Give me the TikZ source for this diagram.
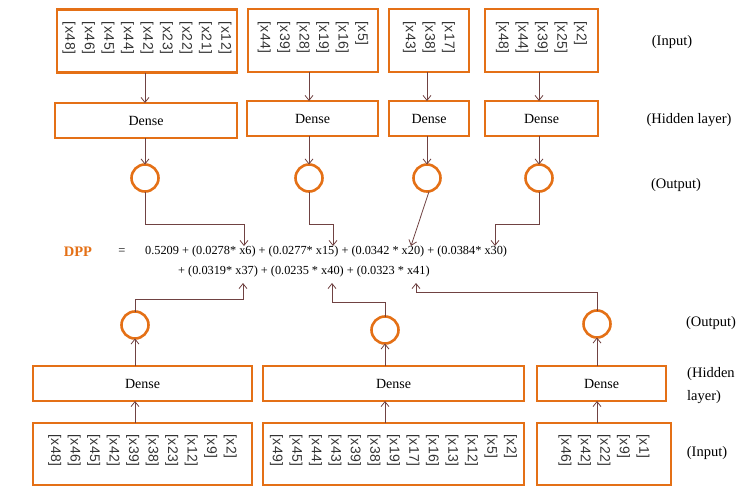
\documentclass[tikz,border=0pt]{standalone}
\usepackage{fontspec}
\setmainfont{Liberation Serif}
\newfontfamily\varfont[LetterSpace=4]{Liberation Sans}
\usetikzlibrary{arrows.meta}
\definecolor{boxorange}{RGB}{228,112,22}
\definecolor{linkbrown}{RGB}{112,66,66}
\tikzset{
  box/.style={draw=boxorange,line width=2.6pt,inner sep=0pt,outer sep=0pt},
  densebox/.style={box,font=\fontsize{14}{16}\selectfont},
  unit/.style={draw=boxorange,line width=2.6pt,circle,minimum size=27pt,inner sep=0pt,outer sep=0pt},
  vars/.style={rotate=-90,anchor=west,align=left,inner sep=0pt,font=\varfont\fontsize{14}{19.5}\selectfont,text=black!80},
  arr/.style={draw=linkbrown,line width=0.8pt,-{Straight Barb[length=5pt,width=8pt]}},
  layer/.style={font=\fontsize{14.5}{23}\selectfont,inner sep=0pt},
  eqn/.style={font=\fontsize{12.3}{14}\selectfont,inner sep=0pt,anchor=west}
}
\begin{document}
\begin{tikzpicture}[x=1pt,y=-1pt]
\useasboundingbox (0,0) rectangle (755,498);

% upper networks
\node[box,minimum width=180pt,minimum height=63pt] (ti1) at (147,41) {};
\node[box,minimum width=130pt,minimum height=63pt] (ti2) at (313,40.5) {};
\node[box,minimum width=80pt,minimum height=63pt] (ti3) at (429,40.5) {};
\node[box,minimum width=113pt,minimum height=63pt] (ti4) at (541.5,40.5) {};
\node[vars] (tv1) at ([yshift=-12pt]ti1.north) {{[x12]}\\{[x21]}\\{[x22]}\\{[x23]}\\{[x42]}\\{[x44]}\\{[x45]}\\{[x46]}\\{[x48]}};
\node[vars] (tv2) at ([yshift=-12pt]ti2.north) {{[x5]}\\{[x16]}\\{[x19]}\\{[x28]}\\{[x39]}\\{[x44]}};
\node[vars] (tv3) at ([yshift=-12pt]ti3.north) {{[x17]}\\{[x38]}\\{[x43]}};
\node[vars] (tv4) at ([yshift=-12pt]ti4.north) {{[x2]}\\{[x25]}\\{[x39]}\\{[x44]}\\{[x48]}};

\node[densebox,minimum width=182pt,minimum height=35pt] (td1) at (146,120.5) {Dense};
\node[densebox,minimum width=131pt,minimum height=35pt] (td2) at (312.5,118.5) {Dense};
\node[densebox,minimum width=80pt,minimum height=35pt] (td3) at (429,118.5) {Dense};
\node[densebox,minimum width=113pt,minimum height=35pt] (td4) at (541.5,118.5) {Dense};

\node[unit] (oc1) at (145,178) {};
\node[unit] (oc2) at (309,178) {};
\node[unit] (oc3) at (427,178) {};
\node[unit] (oc4) at (539,178) {};

\draw[arr] (ti1.south -| oc1) -- (td1.north -| oc1);
\draw[arr] (ti2.south -| oc2) -- (td2.north -| oc2);
\draw[arr] (ti3.south -| oc3) -- (td3.north -| oc3);
\draw[arr] (ti4.south -| oc4) -- (td4.north -| oc4);
\draw[arr] (td1.south -| oc1) -- (oc1.north);
\draw[arr] (td2.south -| oc2) -- (oc2.north);
\draw[arr] (td3.south -| oc3) -- (oc3.north);
\draw[arr] (td4.south -| oc4) -- (oc4.north);

% equation
\node[font=\bfseries\fontsize{14.5}{16}\selectfont,text=boxorange,inner sep=0pt] (dpp) at (78,252) {DPP};
\node[font=\fontsize{12.5}{14}\selectfont,inner sep=0pt] (eq) at (122,252) {=};
\node[eqn] (row1) at (145,252) {0.5209 + (0.0278* x6) + (0.0277* x15) + (0.0342 * x20) + (0.0384* x30)};
\node[eqn] (row2) at (178,272) {+ (0.0319* x37) + (0.0235 * x40) + (0.0323 * x41)};

\coordinate (t6) at (244,246);
\coordinate (t15) at (333,246);
\coordinate (t20) at (411,246);
\coordinate (t30) at (495,246);
\coordinate (b37) at (243,283);
\coordinate (b40) at (332,283);
\coordinate (b41) at (416,283);

\draw[arr] (oc1.south) -- ++(0,33) -| (t6);
\draw[arr] (oc2.south) -- ++(0,33) -| (t15);
\draw[arr] ([xshift=2pt]oc3.south) -- (t20);
\draw[arr] (oc4.south) -- ++(0,33) -| (t30);

% lower networks
\node[unit] (bc1) at (135,325) {};
\node[unit] (bc2) at (385,330) {};
\node[unit] (bc3) at (597,324) {};

\draw[arr] (bc1.north) -- ++(0,-12) -| (b37);
\draw[arr] (bc2.north) -- ++(0,-14) -| (b40);
\draw[arr] (bc3.north) -- ++(0,-18) -| (b41);

\node[densebox,minimum width=219pt,minimum height=35pt] (bd1) at (142.5,383.5) {Dense};
\node[densebox,minimum width=261pt,minimum height=35pt] (bd2) at (393.5,383.5) {Dense};
\node[densebox,minimum width=129pt,minimum height=35pt] (bd3) at (601.5,383.5) {Dense};

\node[box,minimum width=219pt,minimum height=62pt] (bi1) at (142.5,454) {};
\node[box,minimum width=261pt,minimum height=62pt] (bi2) at (393.5,454) {};
\node[box,minimum width=134pt,minimum height=62pt] (bi3) at (604,454) {};
\node[vars] (bv1) at ([yshift=-11pt]bi1.north) {{[x2]}\\{[x9]}\\{[x12]}\\{[x23]}\\{[x38]}\\{[x39]}\\{[x42]}\\{[x45]}\\{[x46]}\\{[x48]}};
\node[vars] (bv2) at ([yshift=-11pt]bi2.north) {{[x2]}\\{[x5]}\\{[x12]}\\{[x13]}\\{[x16]}\\{[x17]}\\{[x19]}\\{[x38]}\\{[x39]}\\{[x43]}\\{[x44]}\\{[x45]}\\{[x49]}};
\node[vars] (bv3) at ([yshift=-11pt]bi3.north) {{[x1]}\\{[x9]}\\{[x22]}\\{[x42]}\\{[x46]}};

\draw[arr] (bi1.north -| bc1) -- (bd1.south -| bc1);
\draw[arr] (bi2.north -| bc2) -- (bd2.south -| bc2);
\draw[arr] (bi3.north -| bc3) -- (bd3.south -| bc3);
\draw[arr] (bd1.north -| bc1) -- (bc1.south);
\draw[arr] (bd2.north -| bc2) -- (bc2.south);
\draw[arr] (bd3.north -| bc3) -- (bc3.south);

% layer names
\node[layer] (ln1) at (672,42) {(Input)};
\node[layer] (ln2) at (689,120) {(Hidden layer)};
\node[layer] (ln3) at (676,185) {(Output)};
\node[layer] (ln4) at (711,323) {(Output)};
\node[layer,align=left,anchor=west] (ln5) at (687,385.5) {(Hidden\\layer)};
\node[layer] (ln6) at (707,453) {(Input)};

\end{tikzpicture}
\end{document}
